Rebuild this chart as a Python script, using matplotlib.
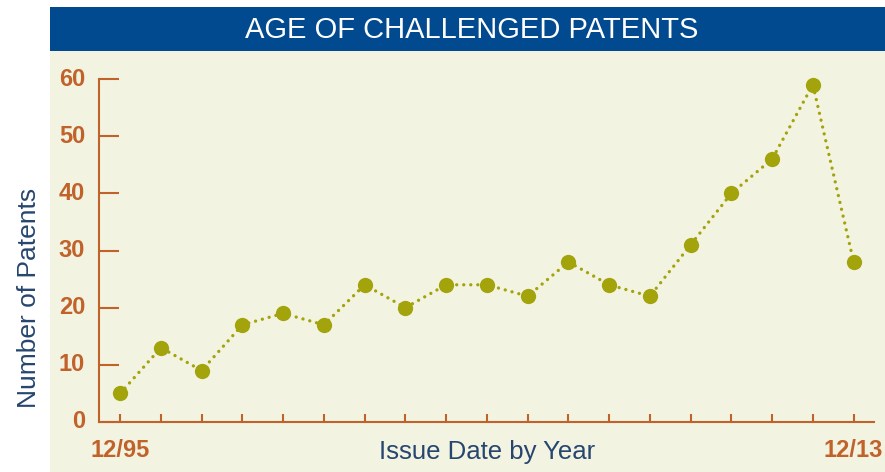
import matplotlib
matplotlib.use("Agg")
import matplotlib.pyplot as plt
from matplotlib.patches import Rectangle
from matplotlib.transforms import ScaledTranslation

years = list(range(1995, 2014))
counts = [5, 13, 9, 17, 19, 17, 24, 20, 24, 24, 22, 28, 24, 22, 31, 40, 46, 59, 28]
x_labels = ["12/95", "12/13"]
y_ticks = [0, 10, 20, 30, 40, 50, 60]
title = "AGE OF CHALLENGED PATENTS"

ORANGE = "#c0622a"
OLIVE = "#a3a30c"
BG = "#f3f3e2"
BLUE = "#024a8f"
NAVY = "#27466f"

plt.rcParams['font.family'] = ['Liberation Sans', 'DejaVu Sans']

W, H = 885, 472
fig = plt.figure(figsize=(W / 100, H / 100), dpi=100)
fig.patch.set_facecolor("white")
fig.patches.append(Rectangle((50 / W, 0), 1 - 50 / W, 1 - 51 / H, transform=fig.transFigure,
                             facecolor=BG, edgecolor="none", zorder=-5))
fig.patches.append(Rectangle((50 / W, 1 - 51 / H), 1 - 50 / W, 44 / H, transform=fig.transFigure,
                             facecolor=BLUE, edgecolor="none", zorder=-5))
fig.text(472 / W, 1 - 30 / H, title, color="white", fontsize=21, ha="center", va="center")

ax = fig.add_axes([99 / W, 1 - 422 / H, (874 - 99) / W, (422 - 79) / H])
ax.set_zorder(5)
ax.set_facecolor("none")
xs = list(range(len(years)))
ax.plot(xs, counts, color=OLIVE, linewidth=2.4, linestyle=(0, (0.01, 2.1)),
        dash_capstyle="round", zorder=2, clip_on=False)
ax.plot(xs, counts, linestyle="none", marker="o", markersize=11, color=OLIVE,
        markeredgewidth=0, zorder=3, clip_on=False)

ax.set_xlim(-0.52, len(years) - 0.5)
ax.set_ylim(0, 60)
for s in ["top", "right"]:
    ax.spines[s].set_visible(False)
for s in ["left", "bottom"]:
    ax.spines[s].set_color(ORANGE)
    ax.spines[s].set_linewidth(1.5)

ax.set_yticks(y_ticks)
ax.set_yticklabels([str(v) for v in y_ticks], fontsize=17, fontweight="bold", color=ORANGE)
offset = ScaledTranslation(0, -4 / 100, fig.dpi_scale_trans)
for lab in ax.get_yticklabels():
    lab.set_verticalalignment("center")
    lab.set_transform(lab.get_transform() + offset)
ax.tick_params(axis="y", direction="in", length=14.5, width=1.5, color=ORANGE, pad=10)
ax.set_xticks(xs)
labels = [""] * len(xs)
labels[0] = x_labels[0]
labels[-1] = x_labels[1]
ax.set_xticklabels(labels, fontsize=17, fontweight="bold", color=ORANGE)
ax.tick_params(axis="x", direction="in", length=6, width=1.5, color=ORANGE, pad=12)

fig.text(487 / W, 1 - 452 / H, "Issue Date by Year", fontsize=18.5, color=NAVY,
         ha="center", va="center")
fig.text(29 / W, 1 - 298 / H, "Number of Patents", fontsize=19, color=NAVY,
         ha="center", va="center", rotation=90)

fig.savefig("out.png", dpi=100, facecolor=fig.get_facecolor())
